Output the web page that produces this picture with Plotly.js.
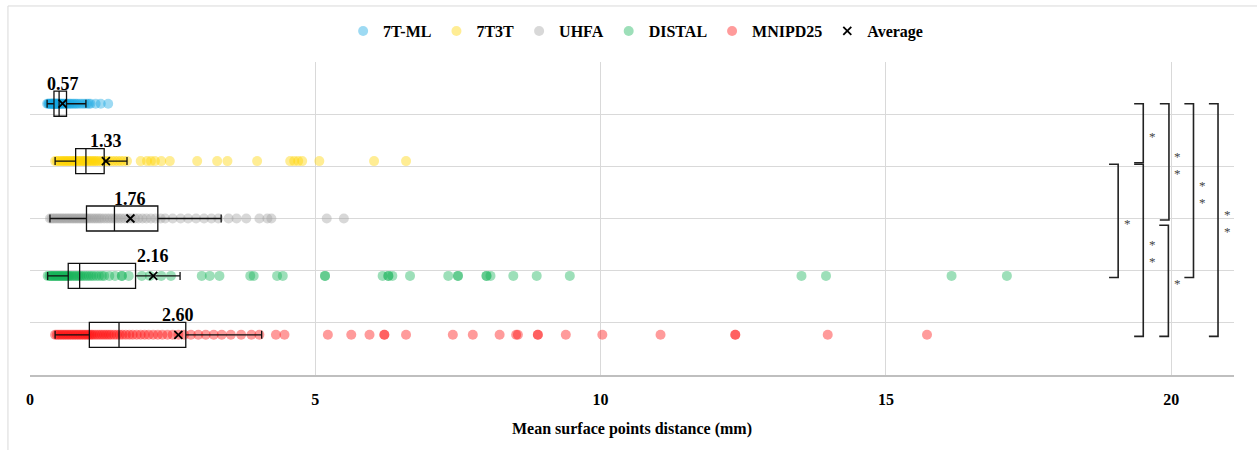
<!DOCTYPE html>
<html>
<head>
<meta charset="utf-8">
<script src="https://cdn.plot.ly/plotly-3.0.1.min.js"></script>
<style>html,body{margin:0;padding:0;background:#fff;}#chart{width:1257px;height:450px;}</style>
</head>
<body>
<div id="chart"></div>
<script>
// ---- categories ----
const groupNames = ['7T-ML', '7T3T', 'UHFA', 'DISTAL', 'MNIPD25'];
const rowY = [5.2, 4.1, 3.0, 1.9, 0.77];

// ---- individual subject values (mm) ----
const vals7TML = [0.30,0.32,0.33,0.35,0.36,0.37,0.38,0.39,0.40,0.41,0.42,0.42,0.43,0.44,0.45,0.46,0.47,0.48,0.49,0.50,0.51,0.52,0.53,0.55,0.56,0.58,0.60,0.62,0.64,0.66,0.69,0.71,0.74,0.77,0.80,0.83,0.87,0.91,0.95,0.99,1.03,1.06,1.15,1.24,1.37];
const vals7T3T = [0.44,0.47,0.50,0.53,0.56,0.58,0.61,0.63,0.66,0.68,0.71,0.73,0.76,0.78,0.80,0.83,0.85,0.88,0.90,0.93,0.95,0.97,1.00,1.03,1.06,1.09,1.12,1.15,1.18,1.22,1.26,1.30,1.34,1.39,1.44,1.49,1.54,1.59,1.64,1.70,1.94,2.05,2.12,2.19,2.30,2.45,2.93,3.28,3.46,3.98,4.56,4.63,4.70,4.77,5.07,6.03,6.59];
const valsUHFA = [0.35,0.38,0.41,0.44,0.47,0.50,0.53,0.56,0.59,0.62,0.65,0.68,0.71,0.74,0.77,0.80,0.83,0.86,0.89,0.92,0.95,0.98,1.01,1.05,1.09,1.13,1.17,1.21,1.25,1.30,1.35,1.40,1.45,1.50,1.55,1.60,1.66,1.72,1.78,1.84,1.90,1.97,2.04,2.12,2.20,2.29,2.37,2.50,2.64,2.77,2.91,3.05,3.18,3.30,3.48,3.62,3.79,4.02,4.16,4.23,5.20,5.50];
const valsDISTAL = [0.31,0.34,0.36,0.38,0.40,0.42,0.44,0.46,0.48,0.50,0.52,0.54,0.56,0.58,0.60,0.62,0.64,0.66,0.68,0.70,0.73,0.76,0.79,0.82,0.85,0.88,0.91,0.95,0.99,1.03,1.07,1.11,1.16,1.21,1.26,1.30,1.39,1.49,1.61,1.61,1.73,1.96,2.10,2.30,2.47,3.01,3.15,3.32,3.86,3.92,4.33,4.43,5.17,5.17,6.18,6.28,6.28,6.35,6.66,7.33,7.50,7.50,8.00,8.00,8.07,8.47,8.88,9.46,13.52,13.95,16.15,17.12];
const valsMNIPD25 = [0.44,0.47,0.50,0.53,0.56,0.59,0.62,0.65,0.68,0.71,0.74,0.77,0.80,0.83,0.86,0.89,0.92,0.95,0.98,1.01,1.04,1.07,1.10,1.14,1.18,1.22,1.26,1.30,1.34,1.38,1.42,1.47,1.52,1.57,1.62,1.68,1.74,1.80,1.87,1.94,2.01,2.08,2.16,2.24,2.32,2.41,2.50,2.60,2.70,2.82,2.95,3.08,3.22,3.36,3.52,3.70,3.88,4.02,4.31,4.46,5.22,5.63,5.95,6.21,6.21,6.59,7.41,7.76,8.23,8.52,8.55,8.90,8.90,9.39,10.03,11.05,12.36,12.36,13.98,15.72];
const groupValues = [vals7TML, vals7T3T, valsUHFA, valsDISTAL, valsMNIPD25];

// ---- box statistics ----
const lowerFences = [0.30, 0.44, 0.35, 0.31, 0.44];
const q1s         = [0.42, 0.80, 0.99, 0.67, 1.04];
const medians     = [0.51, 0.98, 1.48, 0.87, 1.56];
const q3s         = [0.64, 1.30, 2.24, 1.85, 2.73];
const upperFences = [0.98, 1.70, 3.35, 2.63, 4.06];
const means       = [0.57, 1.33, 1.76, 2.16, 2.60];
const meanLabels  = ['0.57', '1.33', '1.76', '2.16', '2.60'];

// ---- significance brackets ----
const bracketFrom  = [0, 0, 0, 0, 1, 1, 2];
const bracketTo    = [1, 2, 3, 4, 3, 4, 4];
const bracketX     = [19.51, 19.96, 20.39, 20.82, 19.07, 19.51, 19.95];
const bracketLabel = ['*', '**', '**', '**', '*', '**', '*'];

const colors = ['#16A6E3', '#FFD400', '#A3A3A3', '#16B257', '#FF1010'];
const serif = 'Liberation Serif, Times New Roman, serif';

const traces = [];
groupNames.forEach((name, i) => {
  traces.push({
    type: 'scatter', mode: 'markers', name: name,
    x: groupValues[i], y: groupValues[i].map(() => rowY[i]),
    marker: {color: colors[i], size: 10, opacity: 0.42, line: {width: 0}},
    xaxis: 'x', yaxis: 'y', hoverinfo: 'x'
  });
});
groupNames.forEach((name, i) => {
  traces.push({
    type: 'box', orientation: 'h', name: name + ' box', showlegend: false,
    y: [rowY[i]], q1: [q1s[i]], median: [medians[i]], q3: [q3s[i]],
    lowerfence: [lowerFences[i]], upperfence: [upperFences[i]],
    width: 0.48, whiskerwidth: 0.32,
    fillcolor: 'rgba(0,0,0,0)', line: {color: '#111', width: 1.3},
    boxpoints: false, xaxis: 'x2', yaxis: 'y2', hoverinfo: 'skip'
  });
});
traces.push({
  type: 'scatter', mode: 'markers', name: 'Average',
  x: means, y: rowY,
  marker: {symbol: 'x-thin-open', size: 8, color: '#000', line: {color: '#000', width: 1.8}},
  xaxis: 'x2', yaxis: 'y2'
});

const annotations = [];
groupNames.forEach((name, i) => {
  annotations.push({
    x: means[i], y: rowY[i], xref: 'x', yref: 'y', text: meanLabels[i],
    showarrow: false, yshift: 20,
    font: {family: serif, size: 18, color: '#000', weight: 'bold'}
  });
});

const shapes = [];
const tick = 0.16;
bracketFrom.forEach((f, k) => {
  const top = rowY[f] - (f === 0 ? 0 : (f === 1 ? 0.06 : 0.13));
  const bot = rowY[bracketTo[k]] - 0.03;
  const xv = bracketX[k];
  shapes.push({
    type: 'path', xref: 'x', yref: 'y',
    path: `M ${xv - tick} ${top} L ${xv} ${top} L ${xv} ${bot} L ${xv - tick} ${bot}`,
    line: {color: '#222', width: 1.6}
  });
  const mid = (top + bot) / 2;
  const stacked = bracketLabel[k].split('').join('<br>');
  annotations.push({
    x: xv, y: mid, xref: 'x', yref: 'y', text: stacked, showarrow: false,
    xshift: 9, yshift: -3,
    font: {family: serif, size: 13, color: '#444'}
  });
});
// outer frame
shapes.push({type: 'line', xref: 'paper', yref: 'paper', x0: -0.0183, x1: 1.03, y0: 1.179, y1: 1.179, line: {color: '#D9D9D9', width: 1}});
shapes.push({type: 'line', xref: 'paper', yref: 'paper', x0: -0.0183, x1: -0.0183, y0: 1.179, y1: -0.26, line: {color: '#D9D9D9', width: 1}});

const xr = [0, 21.1], yr = [0, 6];
const layout = {
  width: 1257, height: 450,
  margin: {l: 30, r: 23, t: 62, b: 75},
  paper_bgcolor: '#fff', plot_bgcolor: '#fff',
  showlegend: true,
  legend: {orientation: 'h', x: 0.503, xanchor: 'center', y: 1.099, yanchor: 'middle',
           font: {family: serif, size: 16, color: '#000', weight: 'bold'}, itemwidth: 30},
  xaxis: {range: xr, tickvals: [0, 5, 10, 15, 20], ticktext: ['0', '5', '10', '15', '20'],
          showgrid: true, gridcolor: '#D9D9D9', gridwidth: 1, zeroline: false,
          showline: true, linecolor: '#BFBFBF', linewidth: 2, ticks: '',
          ticklabelstandoff: 9,
          tickfont: {family: serif, size: 16, color: '#000', weight: 'bold'},
          title: {text: 'Mean surface points distance (mm)', standoff: 16,
                  font: {family: serif, size: 16, color: '#000', weight: 'bold'}}},
  yaxis: {range: yr, tickvals: [1, 2, 3, 4, 5, 6], showticklabels: false,
          showgrid: true, gridcolor: '#D9D9D9', gridwidth: 1, zeroline: false, showline: false, ticks: ''},
  xaxis2: {range: xr, overlaying: 'x', visible: false},
  yaxis2: {range: yr, overlaying: 'y', visible: false},
  shapes: shapes,
  annotations: annotations
};

Plotly.newPlot('chart', traces, layout, {displayModeBar: false, staticPlot: true});
</script>
</body>
</html>
